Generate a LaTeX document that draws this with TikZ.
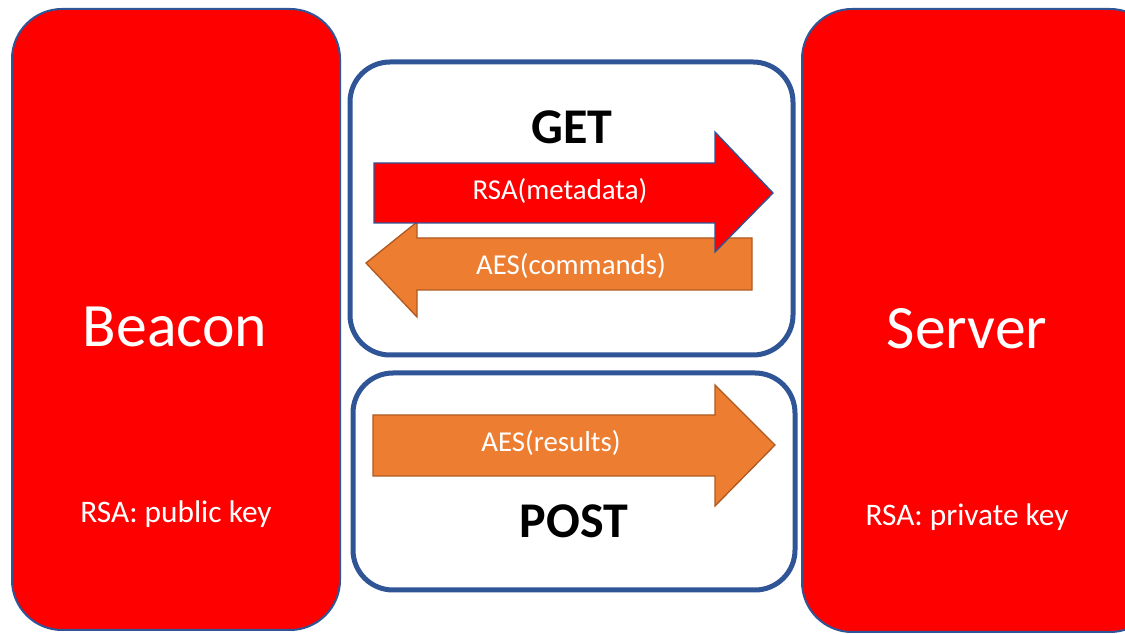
\documentclass[tikz,border=0pt]{standalone}
\usepackage{fontspec}
\setmainfont{Carlito}
\definecolor{boxblue}{RGB}{47,85,151}
\definecolor{aorange}{RGB}{237,125,49}
\definecolor{aorangedk}{RGB}{174,90,33}
\definecolor{pred}{RGB}{255,0,0}
\begin{document}
\begin{tikzpicture}[x=0.6pt,y=-0.6pt,
  party/.style={fill=pred,draw=boxblue,line width=1.2pt,rounded corners=30pt},
  frame/.style={draw=boxblue,line width=3pt,rounded corners=24pt,fill=white},
  redarrow/.style={fill=pred,draw=boxblue,line width=0.8pt,line join=miter},
  orarrow/.style={fill=aorange,draw=aorangedk,line width=0.8pt,line join=miter},
  bigtxt/.style={text=white,font=\fontsize{37}{42}\selectfont},
  keytxt/.style={text=white,font=\fontsize{18.8}{22}\selectfont},
  arrtxt/.style={text=white,font=\fontsize{17.3}{20}\selectfont},
  verb/.style={text=black,font=\bfseries\fontsize{30}{36}\selectfont}]
\useasboundingbox (0,0) rectangle (1125,634);
\clip (0,0) rectangle (1125,634);
% party boxes
\draw[party] (12,9) rectangle (340,630);
\draw[party] (802,9) rectangle (1160,632);
\node[bigtxt] (beacon) at (175,327) {Beacon};
\node[bigtxt] (server) at (967,329) {Server};
\node[keytxt] (pub) at (176,514) {RSA: public key};
\node[keytxt] (priv) at (967,517) {RSA: private key};
% frames
\draw[frame] (350,62) rectangle (793,355);
\draw[frame] (353,373) rectangle (795,590);
\node[verb] (get) at (572,127) {GET};
\node[verb] (post) at (574,521) {POST};
% GET arrows
\draw[orarrow] (752,238) -- (417,238) -- (417,222) -- (366,263) -- (417,317) -- (417,290) -- (752,290) -- cycle;
\draw[redarrow] (374,163) -- (715,163) -- (715,132) -- (773,193) -- (715,252) -- (715,223) -- (374,223) -- cycle;
\node[arrtxt] (meta) at (560,191) {RSA(metadata)};
\node[arrtxt] (cmds) at (571,266) {AES(commands)};
% POST arrow
\draw[orarrow] (373,415) -- (715,415) -- (715,385) -- (775,445) -- (715,506) -- (715,476) -- (373,476) -- cycle;
\node[arrtxt] (res) at (551,443) {AES(results)};
\end{tikzpicture}
\end{document}
